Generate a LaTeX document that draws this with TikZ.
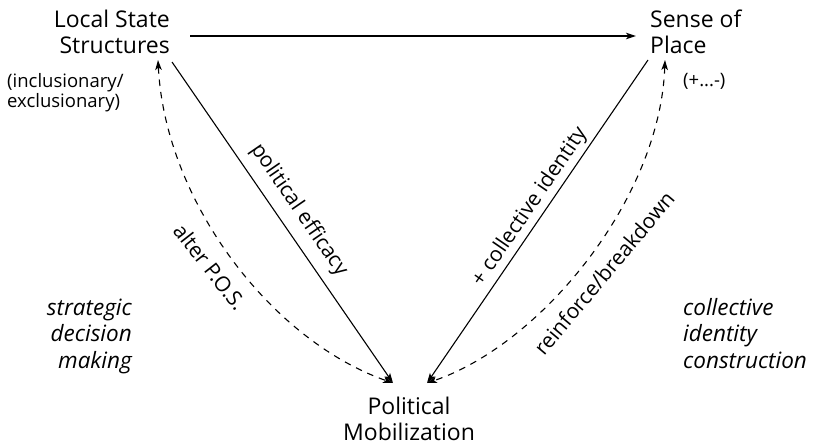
\documentclass[tikz,border=0pt]{standalone}
\usepackage{fontspec}
\setmainfont{Open Sans}
\usetikzlibrary{arrows.meta}
\begin{document}
\begin{tikzpicture}[x=1pt,y=-1pt,
  main/.style={inner sep=0pt, font=\fontsize{23}{25.5}\selectfont},
  small/.style={inner sep=0pt, font=\fontsize{18.5}{19.5}\selectfont},
  side/.style={inner sep=0pt, font=\fontsize{22.5}{26.5}\selectfont\itshape},
  lab/.style={inner sep=0pt, font=\fontsize{21}{23}\selectfont},
  link/.style={line width=1.1pt, -{Stealth[length=10pt,width=6.5pt,inset=2.5pt]}},
  dlink/.style={line width=1.1pt, dash pattern=on 6.5pt off 6pt, {Stealth[length=10pt,width=6.5pt,inset=2.5pt]}-{Stealth[length=10pt,width=6.5pt,inset=2.5pt]}}]
\useasboundingbox (0,0) rectangle (826,447);
\node[main, align=right, anchor=base east] (lss) at (170,53) {Local State\\Structures};
\node[small, align=left, anchor=base west] (incl) at (7,107) {(inclusionary/\\exclusionary)};
\node[main, align=left, anchor=base west] (sop) at (650,53) {Sense of\\Place};
\node[small, anchor=base west] (pm) at (683,86) {(+...-)};
\node[main, align=center, anchor=base] (mob) at (409,440) {Political\\Mobilization};
\node[side, align=right, anchor=base east] (sdm) at (132,368) {strategic\\decision\\making};
\node[side, align=left, anchor=base west] (cic) at (683,368) {collective\\identity\\construction};

\coordinate (h1) at (190,36);
\coordinate (h2) at (636,36);
\coordinate (l1) at (172,62);
\coordinate (r1) at (648,60);
\coordinate (lt) at (393,383);
\coordinate (rt) at (427,383);
\coordinate (ld) at (158,60);
\coordinate (rd) at (665,60);

\draw[link] (h1) -- (h2);
\draw[link] (l1) -- (lt);
\draw[link] (r1) -- (rt);
\draw[dlink] (ld) .. controls (165,200) and (270,340) .. (lt);
\draw[dlink] (rd) .. controls (660,200) and (540,345) .. (rt);

\node[lab, rotate=-55.5] (pe) at (299,210) {political efficacy};
\node[lab, rotate=55.6] (ci) at (530,207) {+ collective identity};
\node[lab, rotate=-52] (ap) at (210,267) {alter P.O.S.};
\node[lab, rotate=50] (rb) at (604,273) {reinforce/breakdown};
\end{tikzpicture}
\end{document}
